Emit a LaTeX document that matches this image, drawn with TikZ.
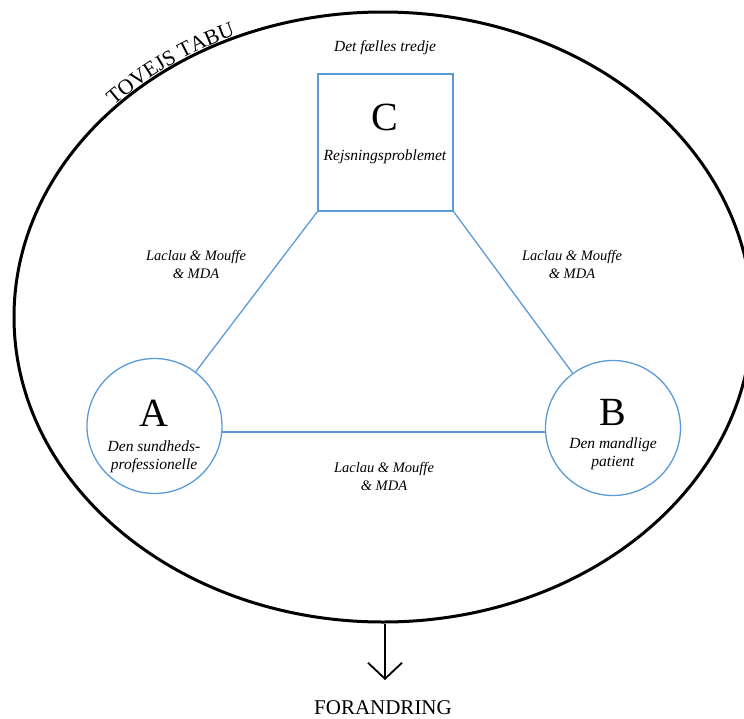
\documentclass[tikz,border=0pt]{standalone}
\usepackage{fontspec}
\setmainfont{Liberation Serif}[ItalicFont={Liberation Serif Italic}]
\usetikzlibrary{shapes.geometric,arrows.meta,decorations.text}
\definecolor{lineblue}{RGB}{91,155,213}
\begin{document}
\begin{tikzpicture}[x=1pt,y=1pt,
  bluebox/.style={draw=lineblue,line width=1.3pt,rectangle,minimum width=135pt,minimum height=137pt,inner sep=0pt},
  bluecirc/.style={draw=lineblue,line width=1.3pt,circle,minimum size=135pt,inner sep=0pt},
  bluelink/.style={draw=lineblue,line width=1.3pt},
  bigletter/.style={font=\fontsize{40}{40}\selectfont,inner sep=0pt},
  itxt/.style={font=\fontsize{15.5}{17.5}\selectfont\itshape,align=center,inner sep=0pt},
  lbl/.style={font=\fontsize{14.5}{18}\selectfont\itshape,align=center,inner sep=0pt}]
\useasboundingbox (0,0) rectangle (744,-718);
\begin{scope}
\clip (0,0) rectangle (744,-718);
\node[ellipse,draw,line width=3pt,minimum width=738pt,minimum height=610pt,inner sep=0pt] (big) at (383,-317) {};
\end{scope}
\path[decorate,decoration={text along path,text align=left,
  text={|\fontsize{21.5}{21.5}\selectfont|TOVEJS TABU}}]
  (383,-317) ++(136.5:371 and 307) arc[start angle=136.5,end angle=110,x radius=371,y radius=307];
% C box
\node[bluebox] (C) at (385.5,-142.5) {};
\node[bigletter] (Cl) at (385,-117) {C};
\node[itxt] (Ct) at (385,-157) {Rejsningsproblemet};
\node[itxt] (Ctop) at (385,-48) {Det fælles tredje};
% A circle
\node[bluecirc] (A) at (154.5,-426) {};
\node[bigletter] (Al) at (154,-413) {A};
\node[itxt] (At) at (154,-457) {Den sundheds-\\professionelle};
% B circle
\node[bluecirc] (B) at (613,-428) {};
\node[bigletter] (Bl) at (613,-412) {B};
\node[itxt] (Bt) at (613,-454) {Den mandlige\\patient};
% connectors
\draw[bluelink] (C.south west) -- (A);
\draw[bluelink] (C.south east) -- (B);
\draw[bluelink] (A.-5) -- (A.-5 -| B.west);
% labels
\node[lbl] (L1) at (196,-264) {Laclau \& Mouffe\\\& MDA};
\node[lbl] (L2) at (572,-264) {Laclau \& Mouffe\\\& MDA};
\node[lbl] (L3) at (384,-476) {Laclau \& Mouffe\\\& MDA};
% arrow
\coordinate (tip) at (385,-680);
\draw[line width=1.8pt,-{Straight Barb[length=16pt,width=34pt,line width=1.8pt]}] (big.south -| tip) -- (tip);
\node[font=\fontsize{21}{21}\selectfont,inner sep=0pt] (F) at (383,-708) {FORANDRING};
\end{tikzpicture}
\end{document}
